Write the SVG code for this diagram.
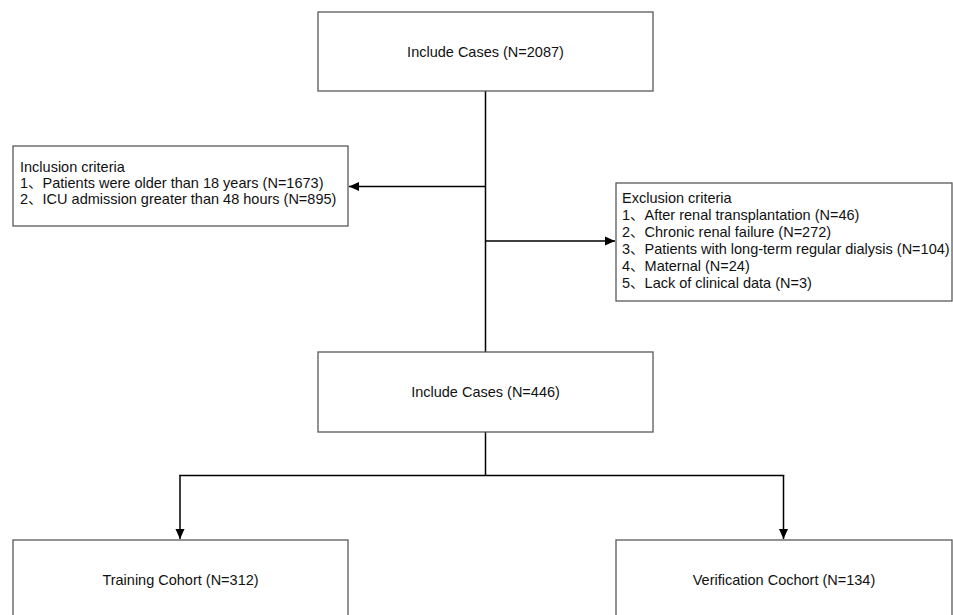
<svg xmlns="http://www.w3.org/2000/svg" width="953" height="615" viewBox="0 0 953 615">
<defs>
<style>
.box{fill:#fff;stroke:#595959;stroke-width:1.3}
.t{font-family:"Liberation Sans","Noto Sans CJK SC",Arial,sans-serif;font-size:14.5px;fill:#111}
.c{text-anchor:middle}
.ln{stroke:#000;stroke-width:1.5;fill:none}
</style>
<marker id="ah" viewBox="0 0 10 10" refX="10" refY="5" markerWidth="10" markerHeight="10" markerUnits="userSpaceOnUse" orient="auto">
<path d="M0,0.5 L10,5 L0,9.5 Z" fill="#000"/>
</marker>
</defs>
<rect width="953" height="615" fill="#fff"/>
<g id="connectors">
<line class="ln" x1="485.5" y1="91" x2="485.5" y2="352"/>
<line class="ln" x1="485.5" y1="186.5" x2="349" y2="186.5" marker-end="url(#ah)"/>
<line class="ln" x1="485.5" y1="241" x2="615" y2="241" marker-end="url(#ah)"/>
<line class="ln" x1="485.5" y1="432" x2="485.5" y2="475.5"/>
<polyline class="ln" points="180,476 180,475.5 783.5,475.5 783.5,476"/>
<line class="ln" x1="180" y1="475" x2="180" y2="539" marker-end="url(#ah)"/>
<line class="ln" x1="783.5" y1="475" x2="783.5" y2="539" marker-end="url(#ah)"/>
</g>
<g id="n1">
<rect class="box" x="318" y="12" width="335" height="79"/>
<text class="t c" x="485.5" y="57">Include Cases (N=2087)</text>
</g>
<g id="inclusion">
<rect class="box" x="13" y="146" width="335" height="80"/>
<text class="t" x="20" y="172">Inclusion criteria</text>
<text class="t" x="20" y="188">1、Patients were older than 18 years (N=1673)</text>
<text class="t" x="20" y="204">2、ICU admission greater than 48 hours (N=895)</text>
</g>
<g id="exclusion">
<rect class="box" x="616" y="183" width="336" height="118"/>
<text class="t" x="622" y="203">Exclusion criteria</text>
<text class="t" x="622" y="220">1、After renal transplantation (N=46)</text>
<text class="t" x="622" y="237">2、Chronic renal failure (N=272)</text>
<text class="t" x="622" y="254">3、Patients with long-term regular dialysis (N=104)</text>
<text class="t" x="622" y="271">4、Maternal (N=24)</text>
<text class="t" x="622" y="288">5、Lack of clinical data (N=3)</text>
</g>
<g id="n2">
<rect class="box" x="318" y="352" width="335" height="80"/>
<text class="t c" x="485.5" y="397">Include Cases (N=446)</text>
</g>
<g id="training">
<rect class="box" x="13" y="540" width="335" height="90"/>
<text class="t c" x="180.5" y="585">Training Cohort (N=312)</text>
</g>
<g id="verification">
<rect class="box" x="616" y="540" width="336" height="90"/>
<text class="t c" x="784" y="585">Verification Cochort (N=134)</text>
</g>
</svg>
